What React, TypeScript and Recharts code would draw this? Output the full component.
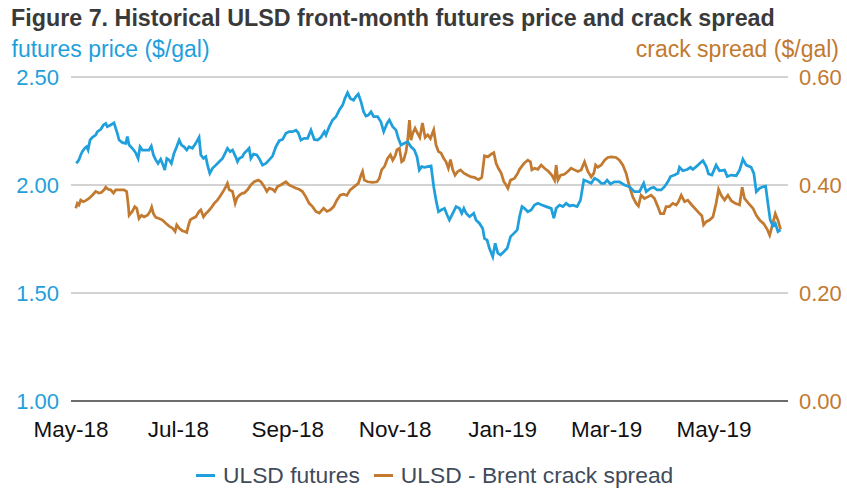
import { LineChart, Line, XAxis, YAxis, CartesianGrid, Legend } from "recharts";

const BLUE = "#1f9fdb";
const ORANGE = "#c27a30";
const FONT = "'Liberation Sans', Arial, sans-serif";

// x = days since 1 May 2018
const monthTickDays = [0, 61, 123, 184, 245, 304, 365];
const monthTickLabels = ["May-18", "Jul-18", "Sep-18", "Nov-18", "Jan-19", "Mar-19", "May-19"];

const priceTicks = [1.0, 1.5, 2.0, 2.5];
const crackTicks = [0.0, 0.2, 0.4, 0.6];

const futuresDays = [
  3, 4.5, 5.5, 6.4, 7.8, 8.9, 9.7, 10.8, 12.1, 14, 15, 16.9, 18.4, 19.7, 20.6, 22.5, 24.4, 26.3, 27.3, 29.2,
  31.1, 32, 33, 34.8, 36.7, 38.1, 39.2, 40.5, 42.4, 44.3, 45.6, 46.8, 48.1, 49.4, 50.9, 52.3, 53.2, 54.4, 55.7, 57,
  58.5, 60, 61.4, 62.7, 64.2, 65.7, 67, 68.9, 70.8, 72.7, 73.7, 75.2, 76.5, 77.5, 78.8, 80.3, 82.2, 84.1, 86, 87.5,
  88.8, 90.3, 91.7, 93.6, 94.5, 95.5, 97.3, 98.3, 100.2, 101.1, 102.1, 103.6, 105.5, 106.8, 108.7, 110.6, 112.5, 114.4, 116.3, 118.2,
  120.1, 122, 123.9, 125.8, 127.7, 129, 130.5, 132.4, 134.3, 136.2, 138.1, 140, 141.9, 143.8, 144.7, 146.6, 148.5, 150.4, 152.3, 154.2,
  155.5, 157, 158.5, 160.4, 161.7, 163.1, 164.6, 166.1, 167.4, 168.8, 170.3, 171.8, 174.1, 175.9, 177.5, 179.4, 180.7, 182.6, 184.5, 185.8,
  187.3, 189.2, 191.1, 193, 194.9, 196.4, 197.7, 199.1, 200.6, 202.5, 204.4, 205.9, 207.2, 208.6, 210.1, 212, 213.5, 214.8, 216.7, 218.6,
  220.5, 221.8, 223, 224.3, 226.2, 228.6, 229.9, 231.9, 233.7, 234.7, 236.2, 237.5, 239.4, 240.8, 242.3, 243.8, 245.7, 247.6, 249.5, 251.4,
  253.3, 254.6, 256, 257.4, 259.3, 261.2, 263.1, 265, 267.3, 269.7, 272.6, 274.1, 275.4, 277.3, 279.2, 281.1, 283, 284.9, 287.3, 289.2,
  291.1, 293.4, 295.3, 297.2, 299.1, 301, 302.8, 304.3, 306.2, 308.5, 311.3, 314.2, 317, 319.8, 322.7, 325.1, 326.5, 329, 330.8, 332.7,
  335, 336.9, 338.8, 340.3, 342.6, 344.5, 345.4, 347.3, 349.8, 351.7, 353, 354.9, 356.8, 358.7, 360.6, 361.9, 363.8, 366.2, 368.1, 371,
  372.5, 374.8, 377.6, 379.5, 381.4, 383.3, 386.1, 387.6, 389, 390.9, 392.7, 394.3, 395.6, 396.9, 398.4, 399.8, 401.3, 402.8,
];
const futuresPrice = [
  2.1, 2.116, 2.139, 2.154, 2.17, 2.177, 2.162, 2.208, 2.221, 2.231, 2.247, 2.258, 2.278, 2.285, 2.27, 2.278, 2.288, 2.239, 2.208, 2.196,
  2.193, 2.224, 2.185, 2.17, 2.15, 2.123, 2.177, 2.162, 2.162, 2.162, 2.18, 2.139, 2.116, 2.1, 2.119, 2.092, 2.069, 2.123, 2.116, 2.1,
  2.147, 2.177, 2.208, 2.185, 2.177, 2.162, 2.177, 2.17, 2.193, 2.221, 2.139, 2.123, 2.131, 2.092, 2.054, 2.077, 2.092, 2.108, 2.123, 2.147,
  2.17, 2.154, 2.162, 2.128, 2.108, 2.123, 2.131, 2.147, 2.162, 2.17, 2.123, 2.143, 2.139, 2.123, 2.092, 2.1, 2.116, 2.134, 2.177, 2.205,
  2.211, 2.239, 2.247, 2.247, 2.254, 2.242, 2.208, 2.216, 2.216, 2.254, 2.211, 2.208, 2.221, 2.247, 2.231, 2.27, 2.301, 2.316, 2.347, 2.37,
  2.401, 2.427, 2.401, 2.393, 2.409, 2.421, 2.386, 2.339, 2.319, 2.324, 2.339, 2.316, 2.316, 2.293, 2.247, 2.285, 2.301, 2.27, 2.254, 2.216,
  2.185, 2.193, 2.2, 2.177, 2.162, 2.131, 2.069, 2.085, 2.082, 2.085, 2.088, 1.992, 1.93, 1.876, 1.884, 1.892, 1.861, 1.838, 1.869, 1.9,
  1.892, 1.869, 1.892, 1.869, 1.853, 1.869, 1.838, 1.822, 1.799, 1.753, 1.745, 1.707, 1.668, 1.73, 1.684, 1.676, 1.691, 1.707, 1.761, 1.776,
  1.792, 1.853, 1.9, 1.892, 1.876, 1.884, 1.907, 1.915, 1.907, 1.9, 1.892, 1.846, 1.892, 1.907, 1.9, 1.915, 1.903, 1.907, 1.9, 1.93,
  2.023, 2.015, 2.008, 2.031, 2.023, 2.008, 2.008, 2.023, 2.005, 2.015, 2.015, 2.0, 1.992, 1.969, 1.969, 2.008, 1.969, 1.985, 1.989, 1.977,
  1.977, 1.992, 2.015, 2.039, 2.046, 2.054, 2.082, 2.066, 2.072, 2.082, 2.072, 2.085, 2.1, 2.113, 2.085, 2.051, 2.046, 2.092, 2.066, 2.069,
  2.039, 2.046, 2.043, 2.069, 2.119, 2.092, 2.082, 2.054, 1.969, 1.985, 1.992, 1.995, 1.915, 1.838, 1.81, 1.822, 1.784, 1.792,
];

const crackDays = [
  2.7, 3.6, 4.5, 5.5, 7, 8.3, 10.2, 12.1, 14, 15.9, 17.2, 18.8, 19.7, 21, 22.5, 24.1, 25.4, 27.3, 30.1, 31.6,
  32.6, 33, 34.8, 36.2, 37.3, 38.6, 40, 41.5, 43.4, 44.9, 45.8, 46.8, 48.1, 50, 51.9, 53.8, 55.7, 57.6, 59.1, 60,
  61.4, 63.3, 64.6, 65.7, 66.5, 67.6, 68.9, 70.8, 72.7, 73.7, 75.2, 76.5, 77.8, 79.4, 81.3, 83.1, 85, 86.9, 87.9, 88.8,
  89.8, 91.7, 93.2, 94.1, 95.5, 97.3, 98.3, 100.2, 102.1, 104, 106.3, 107.8, 109.7, 111.2, 112.5, 114.4, 115.7, 117.2, 119.1, 122,
  123.9, 125.8, 127.7, 129.5, 131.4, 133.3, 135.2, 137.1, 139, 140.9, 143.4, 145.3, 147.2, 149.1, 150.9, 152.8, 154.7, 156.6, 158.5, 160.8,
  163.1, 164.6, 165.5, 166.5, 168.4, 171.2, 173.7, 175, 176.3, 177.9, 179.7, 181.3, 182.6, 184, 185, 186.4, 187.7, 188.8, 190.2, 191.1,
  192.1, 193, 194, 195.3, 196.8, 198, 199.5, 201, 202.5, 204, 205.9, 207.2, 208.6, 210.1, 211.6, 212.9, 214.2, 215.4, 216.7, 218,
  219.5, 221.1, 223, 225.2, 227.1, 229, 231.3, 233.2, 234.7, 236.6, 238.5, 240, 241.3, 242.6, 244.2, 245.7, 247, 248, 249.5, 251.7,
  253.6, 254.6, 256, 257.4, 259.3, 260.8, 261.6, 263.1, 265, 266.9, 268.8, 271.1, 273, 274.5, 275.4, 276.4, 277.9, 280.1, 282, 283.9,
  285.8, 287.7, 289.6, 291.5, 293.4, 295.3, 296.8, 297.8, 299.1, 301, 302.9, 304.7, 306.6, 309.4, 311.3, 313.2, 315.1, 317, 318.9, 320.8,
  322.1, 323.6, 325.5, 327.4, 329.3, 331.2, 333.1, 334.6, 336.5, 337.8, 339.7, 341.6, 343.5, 344.8, 346.4, 348.3, 350.1, 352.4, 354.9, 356.8,
  358.1, 359.1, 360.6, 362.5, 364.4, 366.2, 367.6, 369.1, 371, 372.9, 374.8, 377, 379.5, 381, 382.3, 384.6, 387.1, 389, 390.9, 393.3,
  395.2, 396.6, 397.9, 399.8, 401.3, 402.8,
];
const crackSpread = [
  0.357, 0.366, 0.363, 0.372, 0.369, 0.371, 0.375, 0.381, 0.388, 0.385, 0.386, 0.391, 0.396, 0.392, 0.391, 0.385, 0.391, 0.391, 0.391, 0.388,
  0.36, 0.344, 0.351, 0.36, 0.357, 0.338, 0.344, 0.341, 0.344, 0.351, 0.359, 0.347, 0.34, 0.338, 0.335, 0.329, 0.324, 0.32, 0.314, 0.326,
  0.32, 0.315, 0.314, 0.312, 0.323, 0.335, 0.338, 0.341, 0.351, 0.354, 0.341, 0.347, 0.351, 0.357, 0.366, 0.372, 0.381, 0.391, 0.397, 0.403,
  0.391, 0.388, 0.366, 0.375, 0.381, 0.385, 0.385, 0.391, 0.4, 0.406, 0.409, 0.406, 0.397, 0.388, 0.394, 0.392, 0.388, 0.397, 0.4, 0.406,
  0.4, 0.397, 0.394, 0.392, 0.388, 0.378, 0.366, 0.36, 0.351, 0.348, 0.357, 0.351, 0.354, 0.36, 0.372, 0.381, 0.383, 0.381, 0.391, 0.397,
  0.403, 0.418, 0.425, 0.409, 0.406, 0.405, 0.406, 0.412, 0.428, 0.434, 0.449, 0.456, 0.446, 0.454, 0.465, 0.468, 0.443, 0.446, 0.462, 0.483,
  0.52, 0.483, 0.496, 0.505, 0.495, 0.488, 0.515, 0.488, 0.493, 0.486, 0.502, 0.474, 0.462, 0.459, 0.449, 0.443, 0.431, 0.447, 0.428, 0.418,
  0.425, 0.428, 0.422, 0.418, 0.415, 0.414, 0.41, 0.414, 0.454, 0.452, 0.457, 0.46, 0.44, 0.431, 0.422, 0.406, 0.4, 0.394, 0.409, 0.412,
  0.422, 0.429, 0.435, 0.441, 0.446, 0.443, 0.428, 0.431, 0.429, 0.437, 0.431, 0.425, 0.418, 0.409, 0.437, 0.409, 0.418, 0.42, 0.425, 0.431,
  0.428, 0.425, 0.428, 0.443, 0.425, 0.415, 0.422, 0.437, 0.433, 0.437, 0.446, 0.451, 0.452, 0.451, 0.446, 0.437, 0.422, 0.397, 0.378, 0.366,
  0.361, 0.381, 0.375, 0.378, 0.381, 0.375, 0.36, 0.347, 0.347, 0.36, 0.36, 0.366, 0.363, 0.369, 0.381, 0.369, 0.372, 0.363, 0.354, 0.347,
  0.343, 0.326, 0.332, 0.335, 0.341, 0.366, 0.392, 0.381, 0.372, 0.381, 0.371, 0.366, 0.363, 0.396, 0.375, 0.366, 0.357, 0.344, 0.335, 0.328,
  0.318, 0.307, 0.323, 0.347, 0.335, 0.318,
];

const futuresData = futuresDays.map((day, i) => ({ day, price: futuresPrice[i] }));
const crackData = crackDays.map((day, i) => ({ day, crack: crackSpread[i] }));

function LegendContent() {
  const items = [
    { label: "ULSD futures", color: BLUE },
    { label: "ULSD - Brent crack spread", color: ORANGE },
  ];
  return (
    <div style={{ display: "flex", alignItems: "center", fontFamily: FONT, fontSize: 22.8, color: "#404b5a" }}>
      {items.map((it) => (
        <div key={it.label} style={{ display: "flex", alignItems: "center", marginRight: 14 }}>
          <span style={{ display: "inline-block", width: 19, height: 3, background: it.color, marginRight: 8 }} />
          <span>{it.label}</span>
        </div>
      ))}
    </div>
  );
}

export default function App() {
  return (
    <div style={{ position: "absolute", left: 0, top: 0, width: 847, height: 489, background: "#fff", fontFamily: FONT }}>
      <div style={{ position: "absolute", left: 11, top: 7, fontSize: 23.3, lineHeight: 1, fontWeight: "bold", color: "#3a3a3a", whiteSpace: "nowrap" }}>
        Figure 7. Historical ULSD front-month futures price and crack spread
      </div>
      <div style={{ position: "absolute", left: 11.5, top: 38, fontSize: 23, lineHeight: 1, color: BLUE, whiteSpace: "nowrap" }}>
        futures price ($/gal)
      </div>
      <div style={{ position: "absolute", right: 8, top: 38, fontSize: 23, lineHeight: 1, color: ORANGE, whiteSpace: "nowrap" }}>
        crack spread ($/gal)
      </div>
      <LineChart width={847} height={489} margin={{ top: 77, right: 0, bottom: 58, left: 0 }}>
        <CartesianGrid vertical={false} yAxisId="left" stroke="#c4c4c4" strokeWidth={1.5} />
        <XAxis
          dataKey="day"
          type="number"
          domain={[0, 407]}
          ticks={monthTickDays}
          tickFormatter={(v) => monthTickLabels[monthTickDays.indexOf(v)] ?? ""}
          interval={0}
          height={30}
          tickLine={false}
          tickMargin={14}
          axisLine={{ stroke: "#4a4a4a", strokeWidth: 1.5 }}
          tick={{ fill: "#111", fontSize: 22.5, fontFamily: FONT }}
        />
        <YAxis
          yAxisId="left"
          orientation="left"
          width={71}
          domain={[1, 2.5]}
          ticks={priceTicks}
          interval={0}
          tickFormatter={(v) => v.toFixed(2)}
          tickLine={false}
          axisLine={false}
          tickMargin={6}
          tick={{ fill: BLUE, fontSize: 22, fontFamily: FONT }}
        />
        <YAxis
          yAxisId="right"
          orientation="right"
          width={59}
          domain={[0, 0.6]}
          ticks={crackTicks}
          interval={0}
          tickFormatter={(v) => v.toFixed(2)}
          tickLine={false}
          axisLine={false}
          tickMargin={5}
          tick={{ fill: ORANGE, fontSize: 22, fontFamily: FONT }}
        />
        <Legend
          layout="horizontal"
          verticalAlign="middle"
          align="center"
          wrapperStyle={{ top: 462, left: 196, width: 560 }}
          content={<LegendContent />}
        />
        <Line
          data={crackData}
          yAxisId="right"
          dataKey="crack"
          name="ULSD - Brent crack spread"
          type="linear"
          stroke={ORANGE}
          strokeWidth={2.75}
          dot={false}
          isAnimationActive={false}
        />
        <Line
          data={futuresData}
          yAxisId="left"
          dataKey="price"
          name="ULSD futures"
          type="linear"
          stroke={BLUE}
          strokeWidth={2.75}
          dot={false}
          isAnimationActive={false}
        />
      </LineChart>
    </div>
  );
}
